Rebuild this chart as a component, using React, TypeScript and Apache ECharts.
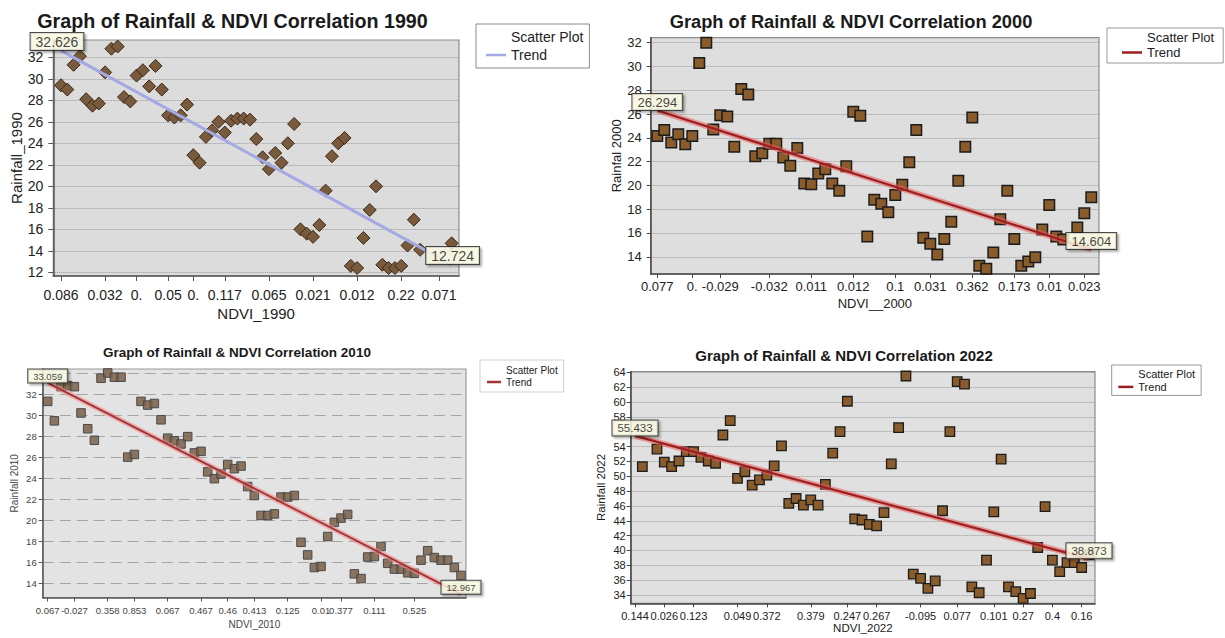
import React, { useEffect, useRef } from 'react';
import * as echarts from 'echarts';

const FONT = '"Liberation Sans", Arial, Helvetica, sans-serif';

// ---------------- 1990 ----------------
const P1_TITLE = 'Graph of Rainfall & NDVI Correlation 1990';
const P1_X_NAME = 'NDVI_1990';
const P1_Y_NAME = 'Rainfall_1990';
const P1_POINTS: number[][] = [
  [0, 29.4], [1, 29.0], [2, 31.3], [3, 32.1], [4, 28.1], [5, 27.5], [6, 27.7], [7, 30.6], [8, 32.8], [9, 33.0],
  [10, 28.3], [11, 27.9], [12, 30.3], [13, 30.8], [14, 29.3], [15, 31.2], [16, 29.0], [17, 26.6], [18, 26.4], [19, 26.6],
  [20, 27.6], [21, 22.9], [22, 22.2], [23, 24.6], [24, 25.2], [25, 26.0], [26, 25.0], [27, 26.1], [28, 26.3], [29, 26.3],
  [30, 26.2], [31, 24.4], [32, 22.7], [33, 21.6], [34, 23.1], [35, 22.2], [36, 24.0], [37, 25.8], [38, 16.0], [39, 15.6],
  [40, 15.3], [41, 16.4], [42, 19.6], [43, 22.8], [44, 24.0], [45, 24.5], [46, 12.6], [47, 12.4], [48, 15.2], [49, 17.8],
  [50, 20.0], [51, 12.7], [52, 12.4], [53, 12.4], [54, 12.6], [55, 14.5], [56, 16.9], [57, 14.1], [62, 14.7],
];
const P1_TREND: number[][] = [[0, 32.626], [62, 12.724]];
const P1_X_TICKS = [0, 7, 12, 17, 21, 26, 33, 40, 47, 54, 60];
const P1_X_LABELS = ['0.086', '0.032', '0.', '0.05', '0.', '0.117', '0.065', '0.021', '0.012', '0.22', '0.071'];
const P1_Y_TICKS = [12, 14, 16, 18, 20, 22, 24, 26, 28, 30, 32];
const P1_Y_LABELS = [12, 14, 16, 18, 20, 22, 24, 26, 28, 30, 32];

// ---------------- 2000 ----------------
const P2_TITLE = 'Graph of Rainfall & NDVI Correlation 2000';
const P2_X_NAME = 'NDVI__2000';
const P2_Y_NAME = 'Rainfal 2000';
const P2_POINTS: number[][] = [
  [0, 24.15], [1, 24.65], [2, 23.6], [3, 24.3], [4, 23.45], [5, 24.15], [6, 30.3], [7, 32.0], [8, 24.7], [9, 25.9],
  [10, 25.8], [11, 23.25], [12, 28.1], [13, 27.65], [14, 22.45], [15, 22.7], [16, 23.5], [17, 23.5], [18, 22.35], [19, 21.65],
  [20, 23.15], [21, 20.15], [22, 20.1], [23, 21.0], [24, 21.35], [25, 20.15], [26, 19.55], [27, 21.6], [28, 26.2], [29, 25.85],
  [30, 15.7], [31, 18.8], [32, 18.45], [33, 17.75], [34, 19.2], [35, 20.05], [36, 21.95], [37, 24.65], [38, 15.6], [39, 15.1],
  [40, 14.2], [41, 15.5], [42, 16.95], [43, 20.4], [44, 23.25], [45, 25.7], [46, 13.25], [47, 13.0], [48, 14.35], [49, 17.15],
  [50, 19.55], [51, 15.5], [52, 13.25], [53, 13.6], [54, 13.95], [55, 16.3], [56, 18.35], [57, 15.7], [58, 15.45],
  [60, 16.45], [61, 17.65], [62, 19.0],
];
const P2_TREND: number[][] = [[0, 26.294], [62, 14.604]];
const P2_X_TICKS = [0, 5, 9, 16, 22, 28, 34, 39, 45, 51, 56, 61];
const P2_X_LABELS = ['0.077', '0.', '-0.029', '-0.032', '0.011', '0.012', '0.1', '0.031', '0.362', '0.173', '0.01', '0.023'];
const P2_Y_TICKS = [14, 16, 18, 20, 22, 24, 26, 28, 30, 32];
const P2_Y_LABELS = [14, 16, 18, 20, 22, 24, 26, 28, 30, 32];

// ---------------- 2010 ----------------
const P3_TITLE = 'Graph of Rainfall & NDVI Correlation 2010';
const P3_X_NAME = 'NDVI_2010';
const P3_Y_NAME = 'Rainfall 2010';
const P3_POINTS: number[][] = [
  [0, 31.3], [1, 29.45], [2, 32.7], [3, 32.8], [4, 32.7], [5, 30.2], [6, 28.7], [7, 27.6], [8, 33.5], [9, 34.0],
  [10, 33.6], [11, 33.6], [12, 26.0], [13, 26.25], [14, 31.3], [15, 30.95], [16, 31.1], [17, 29.55], [18, 27.8], [19, 27.55],
  [20, 27.25], [21, 27.95], [22, 26.4], [23, 26.55], [24, 24.6], [25, 23.95], [26, 24.4], [27, 25.3], [28, 24.9], [29, 25.15],
  [30, 23.2], [31, 22.35], [32, 20.45], [33, 20.45], [34, 20.6], [35, 22.2], [36, 22.2], [37, 22.35], [38, 17.9], [39, 16.7],
  [40, 15.5], [41, 15.6], [42, 18.45], [43, 19.8], [44, 20.2], [45, 20.55], [46, 14.9], [47, 14.45], [48, 16.5], [49, 16.55],
  [50, 17.5], [51, 15.9], [52, 15.35], [53, 15.35], [54, 15.0], [55, 14.95], [56, 16.2], [57, 17.1], [58, 16.45], [59, 16.2],
  [60, 16.2], [61, 15.5], [62, 14.75],
];
const P3_TREND: number[][] = [[0, 33.059], [62, 12.967]];
const P3_X_TICKS = [0, 4, 9, 13, 18, 23, 27, 31, 36, 41, 44, 49, 55];
const P3_X_LABELS = ['0.067', '-0.027', '0.358', '0.853', '0.067', '0.467', '0.46', '0.413', '0.125', '0.01', '0.377', '0.111', '0.525'];
const P3_Y_TICKS = [14, 16, 18, 20, 22, 24, 26, 28, 30, 32, 34];
const P3_Y_LABELS = [14, 16, 18, 20, 22, 24, 26, 28, 30, 32];

// ---------------- 2022 ----------------
const P4_TITLE = 'Graph of Rainfall & NDVI Correlation 2022';
const P4_X_NAME = 'NDVI_2022';
const P4_Y_NAME = 'Rainfall 2022';
const P4_POINTS: number[][] = [
  [1, 51.3], [3, 53.65], [4, 51.9], [5, 51.3], [6, 52.05], [7, 53.3], [8, 53.3], [9, 52.55], [10, 52.05],
  [11, 51.75], [12, 55.55], [13, 57.5], [14, 49.7], [15, 50.6], [16, 48.8], [17, 49.5], [18, 50.15], [19, 51.4], [20, 54.1],
  [21, 46.35], [22, 47.0], [23, 46.1], [24, 46.8], [25, 46.1], [26, 48.9], [27, 53.1], [28, 56.0], [29, 60.1], [30, 44.25],
  [31, 44.1], [32, 43.5], [33, 43.3], [34, 45.1], [35, 51.65], [36, 56.55], [37, 63.5], [38, 36.8], [39, 36.25], [40, 34.9],
  [41, 35.9], [42, 45.35], [43, 56.0], [44, 62.75], [45, 62.4], [46, 35.1], [47, 34.3], [48, 38.7], [49, 45.2], [50, 52.3],
  [51, 35.1], [52, 34.45], [53, 33.55], [54, 34.2], [55, 40.4], [56, 45.9], [57, 38.7], [58, 37.15], [59, 38.35], [60, 38.35],
  [61, 37.7], [62, 39.4],
];
const P4_TREND: number[][] = [[0, 55.433], [62, 38.873]];
const P4_X_TICKS = [0, 4, 8, 14, 18, 24, 29, 33, 39, 44, 49, 53, 57, 61];
const P4_X_LABELS = ['0.144', '0.026', '0.123', '0.049', '0.372', '0.379', '0.247', '0.267', '-0.095', '0.077', '0.101', '0.27', '0.4', '0.16'];
const P4_Y_TICKS = [34, 36, 38, 40, 42, 44, 46, 48, 50, 52, 54, 56, 58, 60, 62, 64];
const P4_Y_LABELS = [34, 36, 38, 40, 42, 44, 46, 48, 50, 52, 54, 58, 60, 62, 64];

const LEGEND_NAMES = ['Scatter Plot', 'Trend'];

// ---------------- layout / style per panel ----------------
const PANELS: any[] = [
  {
    title: P1_TITLE, titleX: 232.5, titleY: 21, titleSize: 19.7,
    grid: [53.3, 40, 405.7, 236], bg: '#dcdcdc', border: '#8c8c8c', axisColor: '#555',
    xRange: [-1.22, 63.17], yRange: [11.66, 33.61],
    points: P1_POINTS, trend: P1_TREND, xTicks: P1_X_TICKS, xLabels: P1_X_LABELS, yTicks: P1_Y_TICKS, yLabels: P1_Y_LABELS,
    xName: P1_X_NAME, yName: P1_Y_NAME, nameSize: 15, xNameGap: 30, yNameGap: 28,
    labelSize: 14, xLabelMargin: 12, yLabelMargin: 10, tickLen: 5, textColor: '#222',
    split: { type: 'dotted', color: '#9a9a9a', width: 1 },
    symbol: 'diamond', symbolSize: 13, fill: '#7a5a3c', stroke: '#3a2816', strokeW: 1, opacity: 1,
    trendColor: '#a4a8e4', trendWidth: 3, glow: null,
    valueSize: 14, startOffset: [-4, 0], endOffset: [1, 0],
    legend: { left: 476, top: 24, padding: [5, 6, 5, 10], itemWidth: 20, fontSize: 14, lineHeight: 16, itemGap: 2, border: '#8a8a8a' },
  },
  {
    title: P2_TITLE, titleX: 851, titleY: 21.5, titleSize: 18.3,
    grid: [650.7, 37.7, 448.3, 236.3], bg: '#dedede', border: '#8c8c8c', axisColor: '#444',
    xRange: [-0.94, 63.1], yRange: [12.55, 32.42],
    points: P2_POINTS, trend: P2_TREND, xTicks: P2_X_TICKS, xLabels: P2_X_LABELS, yTicks: P2_Y_TICKS, yLabels: P2_Y_LABELS,
    xName: P2_X_NAME, yName: P2_Y_NAME, nameSize: 13, xNameGap: 23, yNameGap: 28,
    labelSize: 13, xLabelMargin: 6, yLabelMargin: 9, tickLen: 4, textColor: '#222',
    split: { type: 'dotted', color: '#9a9a9a', width: 1 },
    symbol: 'rect', symbolSize: 10.5, fill: '#8a5b2b', stroke: '#1c1c1c', strokeW: 1.5, opacity: 1,
    trendColor: '#9c1f1f', trendWidth: 2.2, glow: 'rgba(235,95,95,0.55)',
    valueSize: 13, startOffset: [0, 0], endOffset: [0, 0],
    legend: { left: 1107, top: 28, padding: [2, 9, 3, 15], itemWidth: 20, fontSize: 13, lineHeight: 15, itemGap: 0, border: '#999' },
  },
  {
    title: P3_TITLE, titleX: 237, titleY: 352.5, titleSize: 13.5,
    grid: [42.7, 369, 423.3, 228.5], bg: '#e3e3e3', border: '#9a9a9a', axisColor: '#555',
    xRange: [-0.75, 62.75], yRange: [12.65, 34.38],
    points: P3_POINTS, trend: P3_TREND, xTicks: P3_X_TICKS, xLabels: P3_X_LABELS, yTicks: P3_Y_TICKS, yLabels: P3_Y_LABELS,
    xName: P3_X_NAME, yName: P3_Y_NAME, nameSize: 10, xNameGap: 22, yNameGap: 23,
    labelSize: 9.5, xLabelMargin: 8, yLabelMargin: 6, tickLen: 4, textColor: '#444',
    split: { type: [11, 6], color: '#a5a5a5', width: 1.2 },
    symbol: 'rect', symbolSize: 8.5, fill: 'rgba(122,96,72,0.85)', stroke: '#4a4a4a', strokeW: 1, opacity: 1,
    trendColor: '#a33434', trendWidth: 1.8, glow: 'rgba(240,140,140,0.6)',
    valueSize: 9.5, startOffset: [0, 0], endOffset: [0, 0],
    legend: { left: 480, top: 360, padding: [4, 6, 4, 7], itemWidth: 14, fontSize: 10, lineHeight: 12, itemGap: 0, border: '#cfcfcf' },
  },
  {
    title: P4_TITLE, titleX: 844, titleY: 355, titleSize: 15,
    grid: [630.7, 371.7, 464.3, 231.6], bg: '#e0e0e0', border: '#8c8c8c', axisColor: '#444',
    xRange: [-0.59, 62.82], yRange: [32.88, 64.08],
    points: P4_POINTS, trend: P4_TREND, xTicks: P4_X_TICKS, xLabels: P4_X_LABELS, yTicks: P4_Y_TICKS, yLabels: P4_Y_LABELS,
    xName: P4_X_NAME, yName: P4_Y_NAME, nameSize: 11.5, xNameGap: 19, yNameGap: 24,
    labelSize: 11, xLabelMargin: 7, yLabelMargin: 5, tickLen: 4, textColor: '#222',
    split: { type: 'dotted', color: '#9a9a9a', width: 1 },
    symbol: 'rect', symbolSize: 9.5, fill: '#8a5b2b', stroke: '#1c1c1c', strokeW: 1.3, opacity: 1,
    trendColor: '#9c1f1f', trendWidth: 2.2, glow: 'rgba(235,95,95,0.55)',
    valueSize: 11.5, startOffset: [0, 0], endOffset: [0, 0],
    legend: { left: 1111.7, top: 365, padding: [2, 6, 2, 6.6], itemWidth: 15, fontSize: 11, lineHeight: 13, itemGap: 0.4, border: '#999' },
  },
];

function buildOption() {
  const title: any[] = [];
  const grid: any[] = [];
  const xAxis: any[] = [];
  const yAxis: any[] = [];
  const legend: any[] = [];
  const series: any[] = [];

  PANELS.forEach((p, i) => {
    title.push({
      text: p.title, left: p.titleX, top: p.titleY, textAlign: 'center', textVerticalAlign: 'middle', padding: 0,
      textStyle: { fontFamily: FONT, fontSize: p.titleSize, fontWeight: 'bold', color: '#1a1a1a' },
    });
    grid.push({
      left: p.grid[0], top: p.grid[1], width: p.grid[2], height: p.grid[3],
      show: true, backgroundColor: p.bg, borderColor: p.border, borderWidth: 1.2,
    });
    xAxis.push({
      gridIndex: i, type: 'value', min: p.xRange[0], max: p.xRange[1],
      name: p.xName, nameLocation: 'middle', nameGap: p.xNameGap,
      nameTextStyle: { fontFamily: FONT, fontSize: p.nameSize, color: p.textColor },
      axisLine: { show: true, onZero: false, lineStyle: { color: p.axisColor, width: 1.5 } },
      axisTick: { show: true, customValues: p.xTicks, length: p.tickLen, lineStyle: { color: p.axisColor, width: 1 } },
      axisLabel: {
        customValues: p.xTicks,
        formatter: (v: number) => {
          const k = p.xTicks.indexOf(Math.round(v));
          return k >= 0 ? p.xLabels[k] : '';
        },
        fontFamily: FONT, fontSize: p.labelSize, color: p.textColor, margin: p.xLabelMargin,
      },
      splitLine: { show: false },
    });
    yAxis.push({
      gridIndex: i, type: 'value', min: p.yRange[0], max: p.yRange[1],
      name: p.yName, nameLocation: 'middle', nameGap: p.yNameGap,
      nameTextStyle: { fontFamily: FONT, fontSize: p.nameSize, color: p.textColor },
      axisLine: { show: true, onZero: false, lineStyle: { color: p.axisColor, width: 1.5 } },
      axisTick: { show: true, customValues: p.yTicks, length: p.tickLen, lineStyle: { color: p.axisColor, width: 1 } },
      axisLabel: {
        customValues: p.yLabels, formatter: (v: number) => String(Math.round(v)),
        fontFamily: FONT, fontSize: p.labelSize, color: p.textColor, margin: p.yLabelMargin,
      },
      splitLine: { show: true, lineStyle: { type: p.split.type, color: p.split.color, width: p.split.width } },
    });
    legend.push({
      orient: 'vertical', left: p.legend.left, top: p.legend.top, padding: p.legend.padding,
      itemWidth: p.legend.itemWidth, itemHeight: 2.5, itemGap: p.legend.itemGap,
      backgroundColor: '#ffffff', borderColor: p.legend.border, borderWidth: 1, borderRadius: 0,
      selectedMode: false,
      textStyle: { fontFamily: FONT, fontSize: p.legend.fontSize, lineHeight: p.legend.lineHeight, color: '#222' },
      data: [
        { name: LEGEND_NAMES[0], icon: 'none' },
        { name: LEGEND_NAMES[1], icon: 'rect', itemStyle: { color: p.trendColor } },
      ],
    });

    series.push({
      type: 'scatter', name: LEGEND_NAMES[0], xAxisIndex: i, yAxisIndex: i,
      data: p.points, symbol: p.symbol, symbolSize: p.symbolSize,
      itemStyle: { color: p.fill, borderColor: p.stroke, borderWidth: p.strokeW, opacity: p.opacity },
      z: 3, silent: true,
    });
    if (p.glow) {
      series.push({
        type: 'line', name: 'trend-glow-' + i, xAxisIndex: i, yAxisIndex: i,
        data: p.trend, symbol: 'none', silent: true, z: 4,
        lineStyle: { color: p.glow, width: p.trendWidth + 3.5 },
      });
    }
    series.push({
      type: 'line', name: LEGEND_NAMES[1], xAxisIndex: i, yAxisIndex: i,
      data: p.trend, symbol: 'none', silent: true, z: 5,
      lineStyle: { color: p.trendColor, width: p.trendWidth },
    });
    const boxLabel = (offset: number[]) => ({
      show: true, position: 'top', distance: 0, offset,
      formatter: (pp: any) => pp.value[1].toFixed(3),
      fontFamily: FONT, fontSize: p.valueSize, color: '#111',
      backgroundColor: '#ffffe8', borderColor: '#222', borderWidth: 1,
      padding: [2, 5, 1, 5],
      shadowColor: 'rgba(0,0,0,0.35)', shadowOffsetX: 2, shadowOffsetY: 2, shadowBlur: 2,
    });
    series.push({
      type: 'scatter', name: 'trend-values-' + i, xAxisIndex: i, yAxisIndex: i,
      symbolSize: 1, itemStyle: { color: 'rgba(0,0,0,0)' }, silent: true, z: 10,
      data: [
        { value: p.trend[0], label: boxLabel(p.startOffset) },
        { value: p.trend[1], label: boxLabel(p.endOffset) },
      ],
    });
  });

  return { animation: false, backgroundColor: '#ffffff', title, grid, xAxis, yAxis, legend, series };
}

export default function App() {
  const ref = useRef<HTMLDivElement | null>(null);
  useEffect(() => {
    if (!ref.current) return;
    const chart = echarts.init(ref.current, undefined, { renderer: 'svg' });
    chart.setOption(buildOption() as any);
    return () => chart.dispose();
  }, []);
  return (
    <div
      ref={ref}
      style={{ position: 'fixed', left: 0, top: 0, width: 1225, height: 638, background: '#fff' }}
    />
  );
}
